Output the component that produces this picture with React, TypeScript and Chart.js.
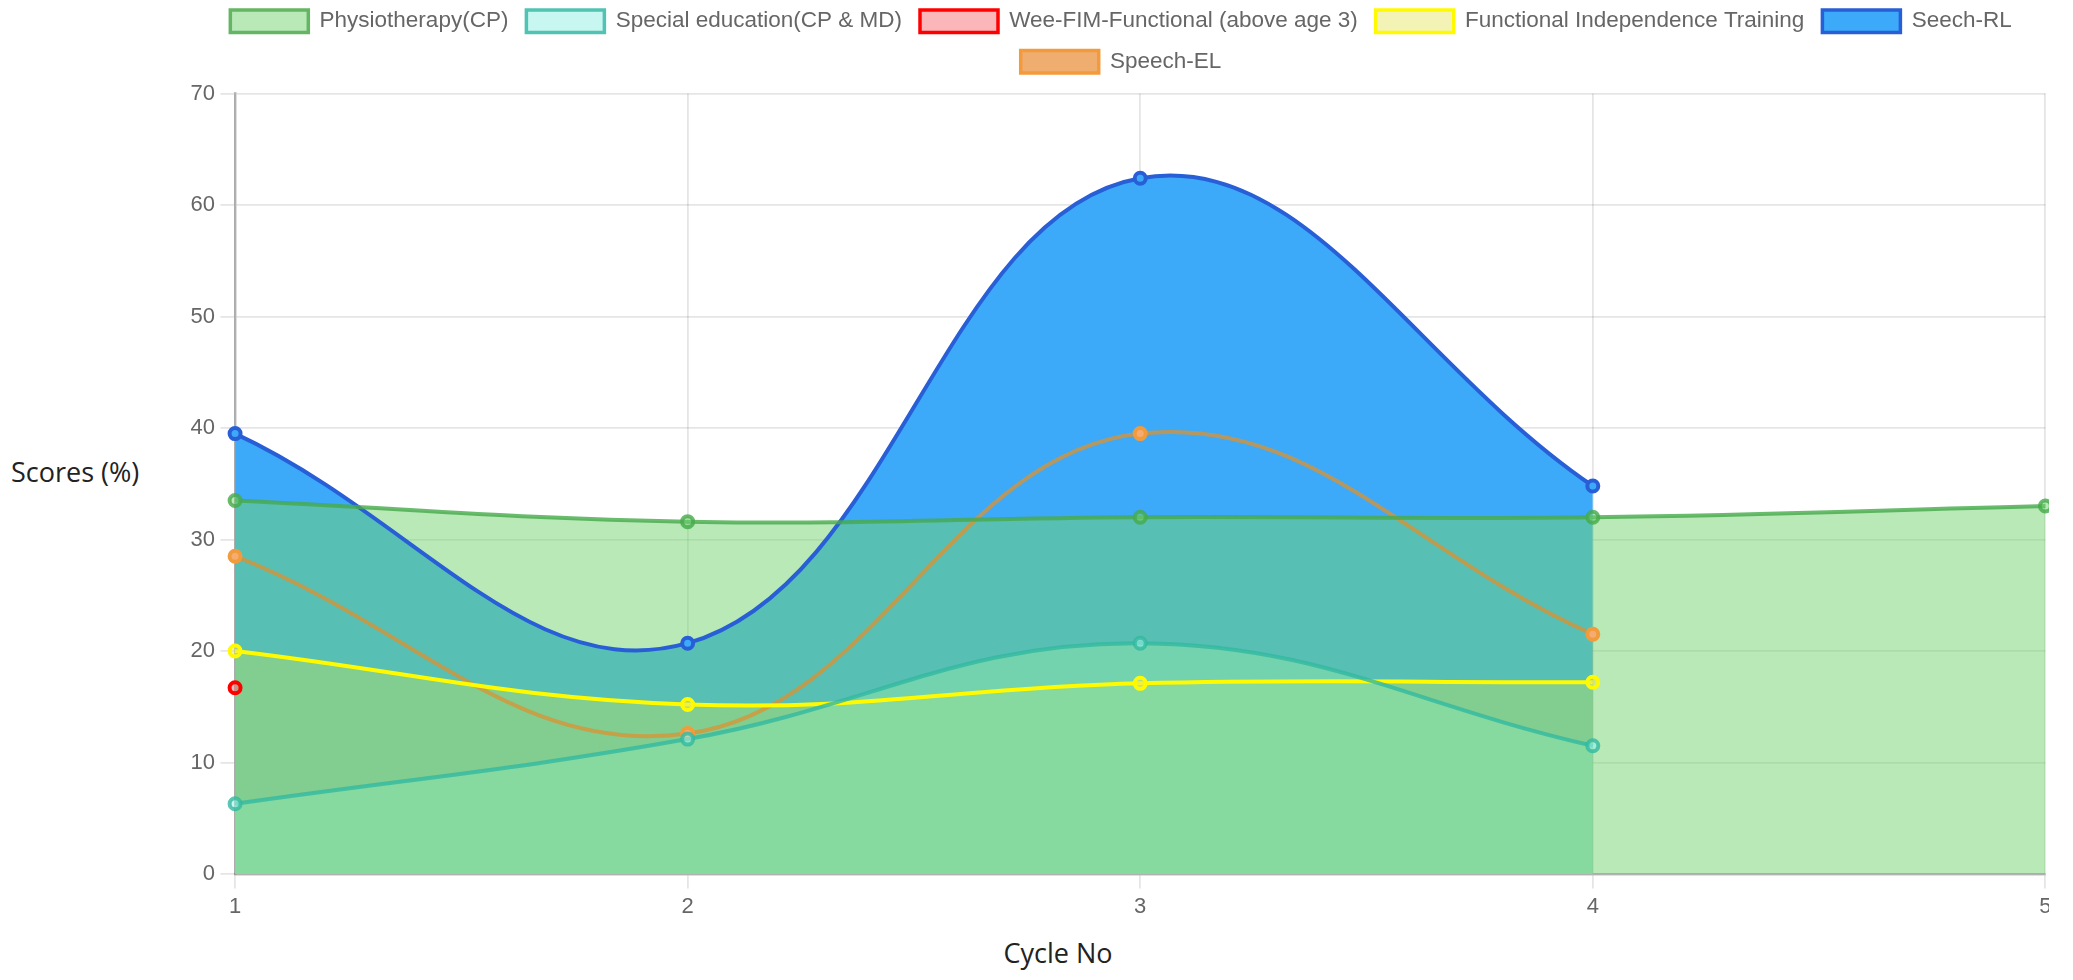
import React, { useEffect, useRef } from "react";
import { Chart, registerables } from "chart.js";

Chart.register(...registerables);

const cycleLabels = ["1", "2", "3", "4", "5"];
const physiotherapy = [33.5, 31.6, 32.0, 32.0, 33.0];
const specialEducation = [6.3, 12.1, 20.7, 11.5, null];
const weeFim = [16.7, null, null, null, null];
const functionalIndependence = [20.0, 15.2, 17.1, 17.2, null];
const speechRL = [39.5, 20.7, 62.4, 34.8, null];
const speechEL = [28.5, 12.6, 39.5, 21.5, null];
const yTicks = [0, 10, 20, 30, 40, 50, 60, 70];

const FONT = "'Liberation Sans', Arial, Helvetica, sans-serif";

const legendGap = {
  id: "legendGap",
  afterInit(chart: any) {
    const legend = chart.legend;
    if (!legend || legend._gapPatched) return;
    const fit = legend.fit;
    legend.fit = function () {
      fit.call(this);
      this.height += 10.5;
    };
    legend._gapPatched = true;
  },
};

export default function App() {
  const canvasRef = useRef<HTMLCanvasElement | null>(null);

  useEffect(() => {
    const canvas = canvasRef.current;
    if (!canvas) return;
    const common = {
      tension: 0.4,
      borderWidth: 4,
      pointRadius: 5.5,
      pointBorderWidth: 4,
      fill: "origin" as const,
    };
    const legendStroke = [
      "rgb(100,182,100)",
      "rgb(80,195,178)",
      "rgb(255,0,0)",
      "rgb(255,250,0)",
      "rgb(40,95,215)",
      "rgb(243,154,60)",
    ];
    const chart = new Chart(canvas, {
      type: "line",
      plugins: [legendGap],
      data: {
        labels: cycleLabels,
        datasets: [
          {
            ...common,
            label: "Physiotherapy(CP)",
            data: physiotherapy,
            backgroundColor: "rgba(113,211,111,0.5)",
            borderColor: "rgba(70,170,75,0.8)",
            pointBorderColor: "rgba(70,170,75,0.8)",
            pointBackgroundColor: "rgba(113,211,111,0.5)",
          },
          {
            ...common,
            label: "Special education(CP & MD)",
            data: specialEducation,
            backgroundColor: "rgba(160,240,229,0.58)",
            borderColor: "rgba(50,185,160,0.8)",
            pointBorderColor: "rgba(50,185,160,0.8)",
            pointBackgroundColor: "rgba(160,240,229,0.58)",
          },
          {
            ...common,
            label: "Wee-FIM-Functional (above age 3)",
            data: weeFim,
            backgroundColor: "rgba(245,110,115,0.5)",
            borderColor: "rgb(255,0,0)",
            pointBorderColor: "rgb(255,0,0)",
            pointBackgroundColor: "rgba(245,110,115,0.5)",
          },
          {
            ...common,
            label: "Functional Independence Training",
            data: functionalIndependence,
            backgroundColor: "rgba(230,232,105,0.5)",
            borderColor: "rgb(255,250,0)",
            pointBorderColor: "rgb(255,250,0)",
            pointBackgroundColor: "rgba(230,232,105,0.5)",
          },
          {
            ...common,
            label: "Seech-RL",
            data: speechRL,
            backgroundColor: "rgb(60,170,249)",
            borderColor: "rgb(40,95,215)",
            pointBorderColor: "rgb(40,95,215)",
            pointBackgroundColor: "rgb(60,170,249)",
          },
          {
            ...common,
            label: "Speech-EL",
            data: speechEL,
            backgroundColor: "rgba(232,140,50,0.7)",
            borderColor: "rgba(220,145,50,0.75)",
            pointBorderColor: "rgb(242,155,60)",
            pointBackgroundColor: "rgb(245,172,112)",
          },
        ],
      },
      options: {
        animation: false,
        responsive: false,
        maintainAspectRatio: false,
        layout: { padding: 0 },
        plugins: {
          filler: { drawTime: "beforeDatasetsDraw" },
          tooltip: { enabled: false },
          legend: {
            position: "top",
            labels: {
              boxWidth: 78,
              boxHeight: 22.5,
              padding: 18,
              color: "#666",
              font: { family: FONT, size: 22.5 },
              generateLabels: (ch: any) => {
                const items = Chart.defaults.plugins.legend.labels.generateLabels(ch);
                return items.map((it: any, i: number) => ({
                  ...it,
                  strokeStyle: legendStroke[i],
                  lineWidth: 3.5,
                }));
              },
            },
          },
        },
        scales: {
          x: {
            type: "category",
            grid: {
              color: "rgba(0,0,0,0.1)",
              lineWidth: 1.8,
              tickLength: 14.6,
            },
            border: { color: "rgba(0,0,0,0.25)", width: 2.5 },
            ticks: {
              color: "#666",
              padding: 5.5,
              font: { family: FONT, size: 22 },
            },
          },
          y: {
            min: 0,
            max: 70,
            afterBuildTicks: (axis: any) => {
              axis.ticks = yTicks.map((v) => ({ value: v }));
            },
            grid: {
              color: "rgba(0,0,0,0.1)",
              lineWidth: 1.8,
              tickLength: 14.6,
            },
            border: { color: "rgba(0,0,0,0.25)", width: 2.5 },
            ticks: {
              color: "#666",
              padding: 5.5,
              font: { family: FONT, size: 22 },
            },
          },
        },
      },
    });
    return () => chart.destroy();
  }, []);

  return (
    <div
      style={{
        position: "fixed",
        left: 0,
        top: 0,
        width: 2049,
        height: 980,
        overflow: "hidden",
        background: "#fff",
      }}
    >
      <canvas
        ref={canvasRef}
        width={1872}
        height={934}
        style={{ position: "absolute", left: 185, top: -8, width: 1872, height: 934 }}
      />
      <div
        style={{
          position: "absolute",
          left: 11,
          top: 452,
          fontFamily: "'Open Sans', 'Noto Sans', sans-serif",
          fontSize: 27,
          color: "#222",
          lineHeight: "40px",
          whiteSpace: "nowrap",
        }}
      >
        Scores (%)
      </div>
      <div
        style={{
          position: "absolute",
          left: 958,
          width: 200,
          top: 933,
          textAlign: "center",
          fontFamily: "'Open Sans', 'Noto Sans', sans-serif",
          fontSize: 27,
          color: "#222",
          lineHeight: "40px",
          whiteSpace: "nowrap",
        }}
      >
        Cycle No
      </div>
    </div>
  );
}
